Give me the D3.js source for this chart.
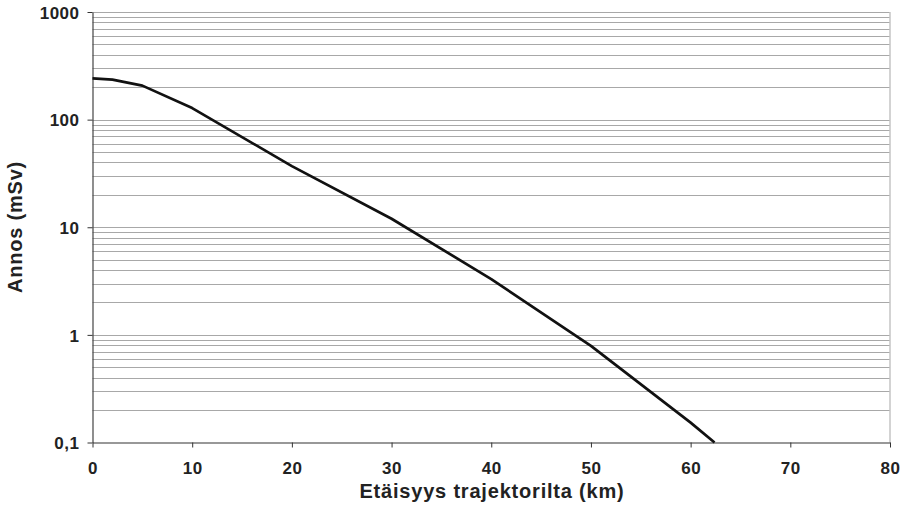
<!DOCTYPE html>
<html><head><meta charset="utf-8">
<script src="https://cdn.jsdelivr.net/npm/d3@7"></script>
<style>body{margin:0;background:#fff}svg{display:block}text{font-family:"Liberation Sans",Arial,sans-serif;font-weight:bold;fill:#222}</style>
</head><body>
<script>
const distanceKm = [0, 2, 5, 10, 20, 30, 40, 50, 60, 62.4];
const doseMSv = [242, 235, 207, 128, 37, 12, 3.3, 0.79, 0.153, 0.1];
const xTicks = [0, 10, 20, 30, 40, 50, 60, 70, 80];
const yTicks = [0.1, 1, 10, 100, 1000];
const yTickLabels = ["0,1", "1", "10", "100", "1000"];
const xTitle = "Etäisyys trajektorilta (km)";
const yTitle = "Annos (mSv)";

const W = 902, H = 511;
const m = {left: 92.5, right: 890, top: 12, bottom: 442.5};
const svg = d3.select("body").append("svg").attr("width", W).attr("height", H);
const x = d3.scaleLinear().domain([0, 80]).range([m.left, m.right]);
const y = d3.scaleLog().domain([0.1, 1000]).range([m.bottom, m.top]);

// gridlines (minor and major)
const grid = [];
for (let e = -1; e < 3; e++) for (let k = 1; k <= 9; k++) grid.push(k * Math.pow(10, e));
grid.push(1000);
svg.append("g").selectAll("line").data(grid.filter(v => v > 0.1)).join("line")
  .attr("x1", m.left).attr("x2", m.right)
  .attr("y1", d => Math.round(y(d)) + 0.5).attr("y2", d => Math.round(y(d)) + 0.5)
  .attr("stroke", "#a8a8a8").attr("stroke-width", 1);
// right border
svg.append("line").attr("x1", m.right).attr("x2", m.right).attr("y1", m.top).attr("y2", m.bottom)
  .attr("stroke", "#c4c4c4").attr("stroke-width", 1.5);

// axes
const xAxis = d3.axisBottom(x).tickValues(xTicks).tickSize(5).tickSizeOuter(0).tickFormat(d3.format("d"));
const gx = svg.append("g").attr("transform", `translate(0,${m.bottom})`).call(xAxis);
gx.attr("font-family", null);
gx.select(".domain").attr("stroke", "#333").attr("stroke-width", 1.2);
gx.selectAll(".tick line").attr("stroke", "#333");
gx.selectAll(".tick text").attr("dy", null).attr("y", 31.5).attr("font-size", 17)
  .attr("letter-spacing", 0.5).attr("fill", "#222");

const yAxis = d3.axisLeft(y).tickValues(yTicks).tickSize(5).tickSizeOuter(0).tickFormat((d, i) => yTickLabels[i]);
const gy = svg.append("g").attr("transform", `translate(${m.left},0)`).call(yAxis);
gy.attr("font-family", null);
gy.select(".domain").attr("stroke", "#444").attr("stroke-width", 1.2);
gy.selectAll(".tick line").attr("stroke", "#333");
gy.selectAll(".tick text").attr("x", -13).attr("dy", "0.36em").attr("font-size", 17)
  .attr("letter-spacing", 0.5).attr("fill", "#222");

// line
const pts = distanceKm.map((d, i) => [d, doseMSv[i]]);
svg.append("path").datum(pts)
  .attr("d", d3.line().x(d => x(d[0])).y(d => y(d[1])))
  .attr("fill", "none").attr("stroke", "#111").attr("stroke-width", 2.7).attr("stroke-linejoin", "round");

// titles
svg.append("text").attr("x", 492).attr("y", 498).attr("text-anchor", "middle").attr("font-size", 20)
  .attr("letter-spacing", 0.8).text(xTitle);
svg.append("text").attr("transform", "translate(22,227) rotate(-90)").attr("text-anchor", "middle").attr("font-size", 20)
  .attr("letter-spacing", 0.8).text(yTitle);
</script>
</body></html>
